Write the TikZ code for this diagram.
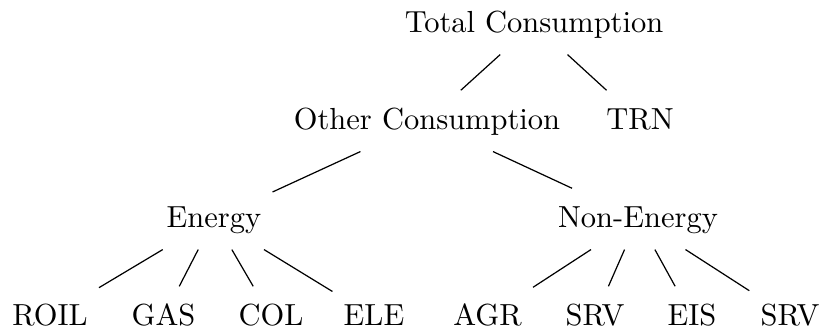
\documentclass[tikz,border=0pt]{standalone}
\begin{document}
\begin{tikzpicture}[x=0.328pt, y=-0.328pt,
  lbl/.style={anchor=base, inner xsep=3.5pt, inner ysep=0pt,
              text height=12.5pt, text depth=7.2pt},
  branch/.style={line width=0.4pt}]
\useasboundingbox (0,0) rectangle (822,329);

% level 0
\node[lbl] (total) at (534,32) {Total Consumption};
% level 1
\node[lbl] (other) at (427,129) {Other Consumption};
\node[lbl] (trn)   at (640,129) {TRN};
% level 2
\node[lbl] (energy)    at (214,227) {Energy};
\node[lbl] (nonenergy) at (638,227) {Non-Energy};
% leaves
\node[lbl] (roil) at (50,325)  {ROIL};
\node[lbl] (gas)  at (163.5,325) {GAS};
\node[lbl] (col)  at (271,325) {COL};
\node[lbl] (ele)  at (374,325) {ELE};
\node[lbl] (agr)  at (487.5,325) {AGR};
\node[lbl] (srva) at (595,325) {SRV};
\node[lbl] (eis)  at (692,325) {EIS};
\node[lbl] (srvb) at (790,325) {SRV};

% branches
\draw[branch] (total) -- (other);
\draw[branch] (total) -- (trn);
\draw[branch] (other) -- (energy);
\draw[branch] (other) -- (nonenergy);
\draw[branch] (energy) -- (roil);
\draw[branch] (energy) -- (gas);
\draw[branch] (energy) -- (col);
\draw[branch] (energy) -- (ele);
\draw[branch] (nonenergy) -- (agr);
\draw[branch] (nonenergy) -- (srva);
\draw[branch] (nonenergy) -- (eis);
\draw[branch] (nonenergy) -- (srvb);
\end{tikzpicture}
\end{document}
